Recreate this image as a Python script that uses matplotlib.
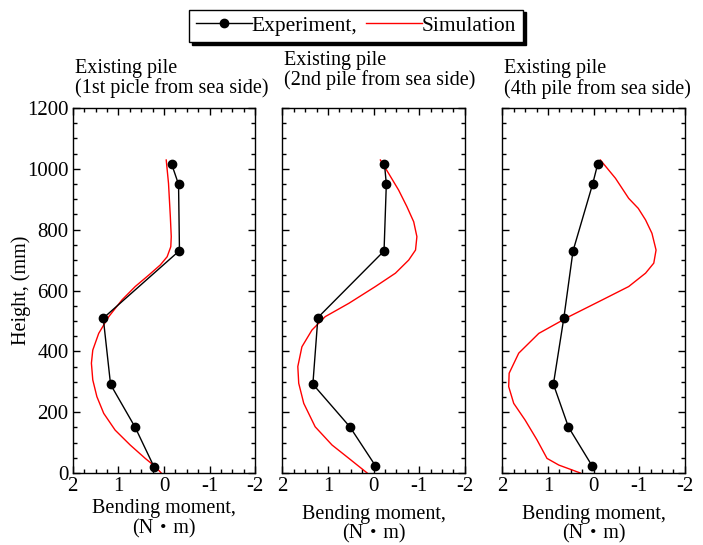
import matplotlib
matplotlib.use("Agg")
import matplotlib.pyplot as plt
from matplotlib.lines import Line2D
from matplotlib.ticker import MultipleLocator

plt.rcParams['font.family'] = ['Liberation Serif', 'Noto Sans CJK JP', 'DejaVu Sans']
plt.rcParams['axes.unicode_minus'] = False

# Panel 1: 1st pile from sea side
exp1_m = [-0.17, -0.32, -0.34, 1.33, 1.17, 0.63, 0.22]
exp1_h = [1015, 949, 731, 509, 291, 150, 21]
sim1_m = [-0.05, -0.10, -0.14, -0.16, -0.15, -0.07, 0.08, 0.33, 0.63, 0.92, 1.21, 1.43, 1.56,
          1.59, 1.56, 1.47, 1.32, 1.07, 0.74, 0.41, 0.19, 0.06]
sim1_h = [1029, 952, 843, 777, 744, 711, 684, 651, 613, 569, 514, 459, 404,
          361, 306, 251, 196, 141, 92, 48, 21, 0]

# Panel 2: 2nd pile from sea side
exp2_m = [-0.24, -0.28, -0.23, 1.22, 1.33, 0.52, -0.04]
exp2_h = [1015, 950, 730, 511, 292, 152, 24]
sim2_m = [-0.15, -0.33, -0.55, -0.73, -0.88, -0.95, -0.92, -0.77, -0.48, -0.04, 0.54, 1.06, 1.35,
          1.57, 1.66, 1.64, 1.53, 1.28, 0.91, 0.54, 0.14]
sim2_h = [1029, 985, 930, 876, 826, 777, 733, 700, 657, 613, 558, 514, 470,
          415, 350, 295, 229, 152, 92, 48, 0]

# Panel 3: 4th pile from sea side
exp3_m = [-0.09, 0.02, 0.45, 0.65, 0.88, 0.55, 0.03]
exp3_h = [1015, 950, 730, 511, 292, 151, 23]
sim3_m = [-0.15, -0.48, -0.77, -0.98, -1.14, -1.28, -1.37, -1.32, -1.14, -0.77, -0.19, 0.54, 1.20,
          1.64, 1.85, 1.86, 1.75, 1.50, 1.24, 1.02, 0.76, 0.47, 0.29]
sim3_h = [1029, 969, 903, 870, 832, 788, 733, 690, 657, 613, 569, 514, 459,
          394, 328, 284, 229, 174, 109, 48, 26, 10, 0]

titles = ["Existing pile\n(1st picle from sea side)",
          "Existing pile\n(2nd pile from sea side)",
          "Existing pile\n(4th pile from sea side)"]
xticks = [2, 1, 0, -1, -2]
yticks = [0, 200, 400, 600, 800, 1000, 1200]

W, H = 703, 545
fig = plt.figure(figsize=(W / 100, H / 100), dpi=100)

lefts = [72.7, 282.3, 502.3]
title_y = [(68, 88), (60, 80), (69, 89)]
xlab_y = [(508, 529), (514, 534), (514, 534)]
pw = 182.5
top, bot = 108, 473

data = [(exp1_m, exp1_h, sim1_m, sim1_h),
        (exp2_m, exp2_h, sim2_m, sim2_h),
        (exp3_m, exp3_h, sim3_m, sim3_h)]

FS = 14.5
for i, (em, eh, sm, sh) in enumerate(data):
    ax = fig.add_axes([lefts[i] / W, 1 - bot / H, pw / W, (bot - top) / H])
    ax.plot(sm, sh, color='red', lw=1.0, zorder=2)
    ax.plot(em, eh, color='black', lw=1.0, marker='o', ms=6, zorder=3)
    ax.set_xlim(2, -2)
    ax.set_ylim(0, 1200)
    ax.set_xticks(xticks)
    ax.set_xticklabels([str(t) for t in xticks])
    ax.set_yticks(yticks)
    ax.xaxis.set_minor_locator(MultipleLocator(0.25))
    ax.yaxis.set_minor_locator(MultipleLocator(50))
    ax.tick_params(which='both', direction='in', top=True, right=True, labelsize=15, width=1.0)
    ax.tick_params(which='major', length=5, pad=3)
    ax.tick_params(which='minor', length=3)
    if i > 0:
        ax.set_yticklabels([])
    for s in ax.spines.values():
        s.set_linewidth(1.0)
    cx = (lefts[i] + pw / 2) / W
    fig.text((lefts[i] + 2) / W, 1 - title_y[i][0] / H, titles[i].split("\n")[0],
             ha='left', va='center', fontsize=FS)
    fig.text((lefts[i] + 2) / W, 1 - title_y[i][1] / H, titles[i].split("\n")[1],
             ha='left', va='center', fontsize=FS)
    fig.text(cx, 1 - xlab_y[i][0] / H, "Bending moment,", ha='center', va='center', fontsize=FS)
    fig.text(cx, 1 - xlab_y[i][1] / H, "(N・m)", ha='center', va='center', fontsize=FS)

fig.text(21 / W, 1 - 290 / H, "Height, (mm)", rotation=90, ha='center', va='center', fontsize=FS)

handles = [Line2D([], [], color='black', lw=1.0, marker='o', ms=6),
           Line2D([], [], color='red', lw=1.0)]
fig.legend(handles, ["Experiment,", "Simulation"], loc='center', bbox_to_anchor=(356 / W, 1 - 26 / H),
           ncol=2, fontsize=15.5, frameon=True, fancybox=False, edgecolor='black', framealpha=1,
           shadow={'facecolor': 'black', 'edgecolor': 'black', 'alpha': 1},
           handlelength=2.6, handletextpad=0.0, columnspacing=0.4, borderpad=0.3,
           borderaxespad=0)

fig.savefig("out.png", dpi=100)
